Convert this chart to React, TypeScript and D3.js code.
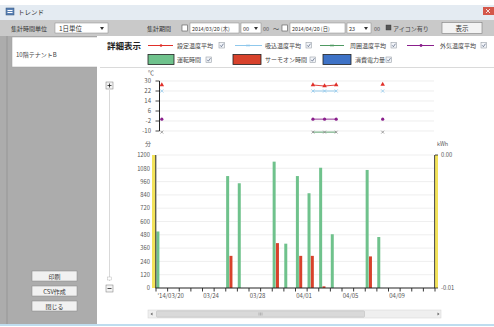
import React from "react";
import * as d3 from "d3";

// ---- data ----
const runDates = ["03/19", "03/25", "03/26", "03/29", "03/30", "03/31", "04/01", "04/02", "04/03", "04/06", "04/07"];
const runMinutes = [510, 1010, 945, 1140, 400, 1010, 855, 1085, 485, 1065, 460];
const thermoDates = ["03/25", "03/29", "03/31", "04/01", "04/02", "04/06"];
const thermoMinutes = [290, 405, 290, 290, 15, 285];

const tempDates = ["03/19", "04/01", "04/02", "04/03", "04/07"];
const setTemp = [26.8, 26.8, 26.0, 26.8, 27.3];
const intakeTemp = [22, 22, 22, 22, 22];
const ambientTemp = [-10.9, -10.9, -10.9, -10.9, -10.9];
const outdoorTemp = [-0.5, -0.5, -0.5, -0.5, -0.5];

const tempTicks = [30, 22, 14, 6, -2, -10];
const minuteTicks = [0, 120, 240, 360, 480, 600, 720, 840, 960, 1080, 1200];
const kwhTicks = [0.0, -0.01];
const dateLabels = ["03/20", "03/24", "03/28", "04/01", "04/05", "04/09"];
const xStart = "03/19";
const xEnd = "04/12";

const FONT = "'Noto Sans CJK JP', 'Noto Sans', sans-serif";
const parse = (s: string) => d3.utcParse("%Y/%m/%d")("2014/" + s) as Date;

const C = {
  red: "#e0302a",
  redBar: "#d8422c",
  lblue: "#8fc8ec",
  green: "#4f9a62",
  greenBar: "#6fc28c",
  purple: "#8a1f8c",
  blue: "#3e72c6",
  gray: "#8a8a8a",
};

function Check({ x, y }: { x: number; y: number }) {
  return (
    <g>
      <rect x={x} y={y} width={5.5} height={5.5} fill="#f2f4f8" stroke="#9aa0a8" strokeWidth={0.6} />
      <path d={`M${x + 1.2},${y + 2.8} L${x + 2.4},${y + 4.2} L${x + 4.5},${y + 1.2}`} fill="none" stroke="#4a5a78" strokeWidth={0.7} />
    </g>
  );
}

function XMark({ cx, cy, color, s = 1.8 }: { cx: number; cy: number; color: string; s?: number }) {
  return (
    <path d={`M${cx - s},${cy - s} L${cx + s},${cy + s} M${cx - s},${cy + s} L${cx + s},${cy - s}`} stroke={color} strokeWidth={0.8} fill="none" />
  );
}

export default function App() {
  const x = d3.scaleUtc().domain([parse(xStart), parse(xEnd)]).range([156, 435]);
  const dayW = x(d3.utcDay.offset(parse(xStart), 1)) - x(parse(xStart));
  const yT = d3.scaleLinear().domain([-10, 30]).range([131, 81]);
  const yM = d3.scaleLinear().domain([0, 1200]).range([288, 155]);
  const yK = d3.scaleLinear().domain([-0.01, 0.0]).range([288, 155]);
  const days = d3.utcDay.range(parse(xStart), d3.utcDay.offset(parse(xEnd), 1));

  const cx = (s: string) => x(parse(s)) + dayW / 2;

  // break lines where dates are not consecutive
  const segs = (vals: number[]) => {
    const out: [number, number][][] = [];
    let cur: [number, number][] = [];
    tempDates.forEach((d, i) => {
      if (i > 0 && d3.utcDay.count(parse(tempDates[i - 1]), parse(d)) > 1) {
        out.push(cur);
        cur = [];
      }
      cur.push([cx(d), yT(vals[i])]);
    });
    out.push(cur);
    return out;
  };
  const line = d3.line<[number, number]>();
  const tri = d3.symbol().type(d3.symbolTriangle).size(9);

  const txt = (props: any, children: any) => (
    <text fontFamily={FONT} fontSize={6.5} fill="#333" {...props}>
      {children}
    </text>
  );

  return (
    <svg width={494} height={327} style={{ position: "absolute", left: 0, top: 0 }}>
      <rect x={0} y={0} width={494} height={327} fill="#ffffff" />
      {/* title bar */}
      <rect x={0} y={5} width={494} height={15} fill="#e4ebf2" />
      <rect x={6} y={8} width={8} height={7} fill="#5b82b5" stroke="#2f4f7a" strokeWidth={0.5} />
      <rect x={7.5} y={10} width={5} height={1} fill="#fff" />
      <rect x={7.5} y={12} width={5} height={1} fill="#fff" />
      {txt({ x: 18, y: 15, fontSize: 6.5 }, "トレンド")}
      <rect x={483} y={7} width={11} height={8} fill="#d4574a" />
      <path d="M486,9 L490,13 M486,13 L490,9" stroke="#fff" strokeWidth={0.8} />
      {/* toolbar */}
      <rect x={0} y={20} width={494} height={16} fill="#c9c9c9" />
      {txt({ x: 11, y: 31, fontSize: 6 }, "集計時間単位")}
      <rect x={55} y={23} width={53} height={10} fill="#fff" stroke="#8a8a8a" strokeWidth={0.5} />
      {txt({ x: 59, y: 31, fontSize: 6.5 }, "1日単位")}
      <path d="M100,27 L104,27 L102,30 Z" fill="#333" />
      {txt({ x: 147, y: 31, fontSize: 6 }, "集計期間")}
      <rect x={182} y={25} width={5.5} height={6} fill="#fff" stroke="#555" strokeWidth={0.6} />
      <rect x={190} y={23} width={49} height={10} fill="#fff" stroke="#8a8a8a" strokeWidth={0.5} />
      {txt({ x: 192, y: 31, fontSize: 5.3 }, "2014/03/20 (木)")}
      <rect x={241} y={23} width={20} height={10} fill="#fff" stroke="#8a8a8a" strokeWidth={0.5} />
      {txt({ x: 243, y: 31, fontSize: 5.5 }, "00")}
      <path d="M254,27 L258,27 L256,30 Z" fill="#333" />
      {txt({ x: 263, y: 31, fontSize: 5.5, fill: "#555" }, "00")}
      {txt({ x: 273, y: 31, fontSize: 6, fill: "#444" }, "〜")}
      <rect x={282} y={25} width={5.5} height={6} fill="#fff" stroke="#555" strokeWidth={0.6} />
      <rect x={290} y={23} width={55} height={10} fill="#fff" stroke="#8a8a8a" strokeWidth={0.5} />
      {txt({ x: 292, y: 31, fontSize: 5.3 }, "2014/04/20 (日)")}
      <rect x={347} y={23} width={24} height={10} fill="#fff" stroke="#8a8a8a" strokeWidth={0.5} />
      {txt({ x: 349, y: 31, fontSize: 5.5 }, "23")}
      <path d="M364,27 L368,27 L366,30 Z" fill="#333" />
      {txt({ x: 374, y: 31, fontSize: 5.5, fill: "#555" }, "00")}
      <rect x={386} y={25} width={5} height={5} fill="#555" stroke="#333" strokeWidth={0.4} />
      {txt({ x: 393, y: 31, fontSize: 6, fill: "#444" }, "アイコン有り")}
      <rect x={442} y={22.5} width={40} height={11} fill="#f3f3f3" stroke="#7d7d7d" strokeWidth={0.6} />
      {txt({ x: 462, y: 31, fontSize: 6.5, textAnchor: "middle" }, "表示")}

      {/* left panel */}
      <rect x={0} y={36} width={97} height={288} fill="#acacac" />
      <line x1={7} x2={7} y1={36} y2={324} stroke="#8c8c8c" strokeWidth={0.6} />
      <rect x={12} y={37} width={88} height={30} fill="#ffffff" stroke="#9a9a9a" strokeWidth={0.5} />
      {txt({ x: 16, y: 57, fontSize: 6, fill: "#444" }, "10階テナントB")}
      {[
        ["印刷", 271],
        ["CSV作成", 286],
        ["閉じる", 301],
      ].map(([t, y]) => (
        <g key={t as string}>
          <rect x={32} y={y as number} width={45} height={10} fill="#f1f1f1" stroke="#858585" strokeWidth={0.5} />
          {txt({ x: 54.5, y: (y as number) + 7.5, fontSize: 6, textAnchor: "middle" }, t)}
        </g>
      ))}

      {/* main panel */}
      <rect x={97} y={36} width={397} height={288} fill="#ffffff" />
      <line x1={100} x2={494} y1={67.5} y2={67.5} stroke="#d0d0d0" strokeWidth={0.8} />
      <line x1={0} x2={494} y1={325} y2={325} stroke="#a8d2ea" strokeWidth={1.5} />

      {/* legend */}
      <text x={107} y={48.5} fontFamily={FONT} fontSize={8.5} fontWeight="bold" fill="#222">詳細表示</text>
      <line x1={148} x2={173} y1={45.5} y2={45.5} stroke={C.red} strokeWidth={1} />
      <circle cx={161} cy={45.5} r={1.3} fill={C.red} />
      {txt({ x: 177, y: 48, fontSize: 6, fill: "#444" }, "設定温度平均")}
      <Check x={219} y={42.5} />
      <line x1={235} x2={262} y1={45.5} y2={45.5} stroke={C.lblue} strokeWidth={1} />
      <XMark cx={248} cy={45.5} color={C.lblue} s={1.2} />
      {txt({ x: 265, y: 48, fontSize: 6, fill: "#444" }, "吸込温度平均")}
      <Check x={306} y={42.5} />
      <line x1={320} x2={344} y1={45.5} y2={45.5} stroke={C.green} strokeWidth={1} />
      <XMark cx={332} cy={45.5} color={C.green} s={1.2} />
      {txt({ x: 350, y: 48, fontSize: 6, fill: "#444" }, "周囲温度平均")}
      <Check x={391} y={42.5} />
      <line x1={407} x2={434} y1={45.5} y2={45.5} stroke={C.purple} strokeWidth={1} />
      <circle cx={421} cy={45.5} r={1.4} fill={C.purple} />
      {txt({ x: 440, y: 48, fontSize: 6, fill: "#444" }, "外気温度平均")}
      <Check x={481} y={42.5} />

      <rect x={148} y={54.5} width={26} height={10} fill={C.greenBar} stroke="#222" strokeWidth={0.8} />
      {txt({ x: 177, y: 62, fontSize: 6, fill: "#444" }, "運転時間")}
      <Check x={206} y={57} />
      <rect x={233} y={54.5} width={28} height={10} fill={C.redBar} stroke="#222" strokeWidth={0.8} />
      {txt({ x: 265, y: 62, fontSize: 6, fill: "#444" }, "サーモオン時間")}
      <Check x={310} y={57} />
      <rect x={323} y={54.5} width={28} height={10} fill={C.blue} stroke="#222" strokeWidth={0.8} />
      {txt({ x: 355, y: 62, fontSize: 6, fill: "#444" }, "消費電力量")}
      <Check x={386} y={57} />

      {/* vertical zoom slider */}
      <line x1={109.5} x2={109.5} y1={90} y2={281} stroke="#cfcfcf" strokeWidth={0.8} />
      <rect x={106} y={82} width={7} height={7} fill="#f4f4f4" stroke="#777" strokeWidth={0.5} />
      <path d="M107.5,85.5 L111.5,85.5 M109.5,83.5 L109.5,87.5" stroke="#222" strokeWidth={0.8} />
      <rect x={107.5} y={277} width={4} height={3} fill="#fff" stroke="#aaa" strokeWidth={0.4} />
      <rect x={106} y={285} width={7} height={7} fill="#f4f4f4" stroke="#777" strokeWidth={0.5} />
      <path d="M107.5,288.5 L111.5,288.5" stroke="#222" strokeWidth={0.8} />

      {/* ---- temperature chart ---- */}
      {txt({ x: 148, y: 75, fontSize: 6, fill: "#555" }, "℃")}
      {tempTicks.map((t) => (
        <g key={"tt" + t}>
          <line x1={160} x2={434} y1={yT(t)} y2={yT(t)} stroke="#e6e6e6" strokeWidth={0.7} />
          <line x1={155.5} x2={159.5} y1={yT(t)} y2={yT(t)} stroke="#222" strokeWidth={0.8} />
          {txt({ x: 151, y: yT(t) + 2.2, fontSize: 6, fill: "#555", textAnchor: "end" }, t)}
        </g>
      ))}
      <line x1={159.5} x2={159.5} y1={yT(30)} y2={yT(-10)} stroke="#222" strokeWidth={1} />

      {segs(ambientTemp).map((s, i) => (s.length > 1 ? <path key={"ga" + i} d={line(s) || ""} stroke={C.green} strokeWidth={0.9} fill="none" /> : null))}
      {segs(outdoorTemp).map((s, i) => (s.length > 1 ? <path key={"pa" + i} d={line(s) || ""} stroke={C.purple} strokeWidth={0.9} fill="none" /> : null))}
      {segs(intakeTemp).map((s, i) => (s.length > 1 ? <path key={"ba" + i} d={line(s) || ""} stroke={C.lblue} strokeWidth={0.9} fill="none" /> : null))}
      {segs(setTemp).map((s, i) => (s.length > 1 ? <path key={"ra" + i} d={line(s) || ""} stroke={C.red} strokeWidth={0.9} fill="none" /> : null))}
      {tempDates.map((d, i) => (
        <g key={"tm" + d}>
          <XMark cx={cx(d)} cy={yT(ambientTemp[i])} color={C.gray} s={1.4} />
          <circle cx={cx(d)} cy={yT(outdoorTemp[i])} r={1.6} fill={C.purple} />
          <XMark cx={cx(d)} cy={yT(intakeTemp[i])} color={C.lblue} s={1.6} />
          <path d={tri() || ""} transform={`translate(${cx(d)},${yT(setTemp[i])})`} fill={C.red} />
        </g>
      ))}

      {/* ---- bar chart ---- */}
      {txt({ x: 145, y: 146, fontSize: 6, fill: "#555" }, "分")}
      {txt({ x: 437, y: 146, fontSize: 5.5, fill: "#555" }, "kWh")}
      {minuteTicks.map((t) => (
        <g key={"mt" + t}>
          {t > 0 ? <line x1={157} x2={434} y1={yM(t)} y2={yM(t)} stroke="#e8e8e8" strokeWidth={0.7} /> : null}
          {txt({ x: 150, y: yM(t) + 2.2, fontSize: 5.8, fill: "#555", textAnchor: "end" }, t)}
        </g>
      ))}
      {runDates.map((d, i) => (
        <rect key={"g" + d} x={x(parse(d)) + 0.4} y={yM(runMinutes[i])} width={3} height={yM(0) - yM(runMinutes[i])} fill={C.greenBar} />
      ))}
      {thermoDates.map((d, i) => (
        <rect key={"r" + d} x={x(parse(d)) + 3.7} y={yM(thermoMinutes[i])} width={3} height={yM(0) - yM(thermoMinutes[i])} fill={C.redBar} />
      ))}
      {/* left axis */}
      <rect x={152} y={yM(1200)} width={3.5} height={yM(0) - yM(1200)} fill="#f3e35a" />
      <line x1={155.8} x2={155.8} y1={yM(1200)} y2={yM(0)} stroke="#222" strokeWidth={1} />
      {/* right axis */}
      <rect x={435} y={yK(0)} width={3} height={yK(-0.01) - yK(0)} fill="#f3e35a" />
      <line x1={434.6} x2={434.6} y1={yK(0)} y2={yK(-0.01)} stroke="#444" strokeWidth={1} />
      {kwhTicks.map((t) => (
        <g key={"k" + t}>
          <line x1={435} x2={438} y1={yK(t)} y2={yK(t)} stroke="#222" strokeWidth={0.8} />
          {txt({ x: 441, y: yK(t) + 2.2, fontSize: 5.8, fill: "#555" }, t === 0 ? "0.00" : "-0.01")}
        </g>
      ))}
      {/* x axis */}
      <line x1={155.5} x2={435} y1={yM(0)} y2={yM(0)} stroke="#222" strokeWidth={1} />
      {days.map((d, i) => (
        <line key={"xt" + i} x1={x(d)} x2={x(d)} y1={yM(0)} y2={yM(0) + 3.5} stroke="#222" strokeWidth={0.9} />
      ))}
      {dateLabels.map((s, i) => (
        <text key={"xl" + s} x={x(parse(s)) - (i === 0 ? -3 : 3)} y={298} fontFamily={FONT} fontSize={6} fill="#555" textAnchor="middle">
          {i === 0 ? "'14/" + s : s}
        </text>
      ))}

      {/* scrollbar */}
      <rect x={148} y={310} width={293} height={8} fill="#efefef" stroke="#d2d2d2" strokeWidth={0.5} />
      <rect x={156.5} y={310.8} width={208} height={6.4} fill="#d9d9d9" stroke="#b9b9b9" strokeWidth={0.5} rx={1} />
      <path d="M259,312.5 L259,315.5 M260.5,312.5 L260.5,315.5 M262,312.5 L262,315.5" stroke="#8f8f8f" strokeWidth={0.5} />
      <path d="M152.5,314 L150.5,312.5 L150.5,315.5 Z" transform="rotate(180 151.5 314)" fill="#666" />
      <path d="M437.5,312.5 L439.5,314 L437.5,315.5 Z" fill="#666" />
    </svg>
  );
}
